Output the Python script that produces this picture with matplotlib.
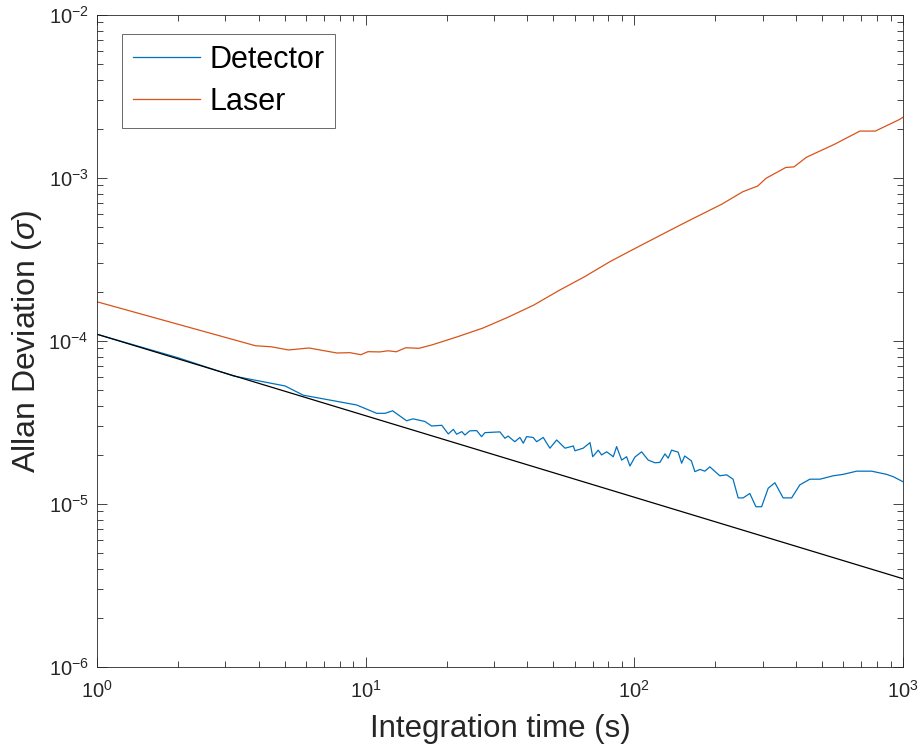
import numpy as np
import matplotlib
matplotlib.use("Agg")
import matplotlib.pyplot as plt
from matplotlib.ticker import LogLocator, NullFormatter

# integration time (s) and Allan deviation
laser_tau = [1, 3.89, 4.44, 5.17, 6.15, 7.82, 8.74, 9.6, 10.2, 11.3, 12.1, 13.0,
             14.1, 15.8, 17.6, 21.9, 27.3, 33.9, 42.2, 52.4, 65.3, 81.2, 101,
             125.6, 156.6, 186, 212, 253.5, 288, 309, 366, 393, 437, 556, 691,
             789, 973, 1000]
laser_adev = [1.74e-4, 9.35e-5, 9.22e-5, 8.81e-5, 9.06e-5, 8.44e-5, 8.48e-5,
              8.24e-5, 8.60e-5, 8.57e-5, 8.71e-5, 8.59e-5, 9.09e-5, 9.02e-5,
              9.45e-5, 1.06e-4, 1.20e-4, 1.40e-4, 1.66e-4, 2.04e-4, 2.48e-4,
              3.07e-4, 3.71e-4, 4.47e-4, 5.39e-4, 6.21e-4, 6.92e-4, 8.24e-4,
              8.93e-4, 9.95e-4, 1.16e-3, 1.17e-3, 1.34e-3, 1.61e-3, 1.94e-3,
              1.94e-3, 2.29e-3, 2.36e-3]

det_tau = [1, 2, 3.22, 5.01, 5.86, 9.26, 10.99, 11.8, 12.6, 14.2, 15.0, 16.6,
           17.6, 19.2, 20.3, 21.2, 21.8, 22.8, 23.4, 24.4, 25.9, 27.0, 27.8,
           31.6, 33.0, 33.9, 35.9, 37.5, 38.6, 39.7, 42.0, 43.3, 45.8, 48.5,
           51.4, 55.2, 59.3, 60.1, 64.5, 68.4, 70.0, 73.4, 75.5, 78.9, 83.5,
           85.9, 89.7, 93.6, 96.3, 100.5, 106.4, 112.6, 119.3, 124.5, 130,
           133.7, 137.6, 145.6, 150, 154, 163, 168, 175.5, 183, 191, 208,
           220.5, 233, 243.5, 254, 269, 283.5, 297.6, 315, 333.5, 358, 385,
           413, 450, 491, 550, 599, 672, 764, 869, 920, 1000]
det_adev = [1.10e-4, 7.9e-5, 6.10e-5, 5.30e-5, 4.65e-5, 4.05e-5, 3.60e-5,
            3.60e-5, 3.73e-5, 3.24e-5, 3.33e-5, 3.21e-5, 3.01e-5, 3.04e-5,
            2.69e-5, 2.87e-5, 2.68e-5, 2.78e-5, 2.65e-5, 2.81e-5, 2.82e-5,
            2.59e-5, 2.74e-5, 2.77e-5, 2.53e-5, 2.61e-5, 2.41e-5, 2.56e-5,
            2.36e-5, 2.59e-5, 2.56e-5, 2.41e-5, 2.56e-5, 2.20e-5, 2.47e-5,
            2.20e-5, 2.27e-5, 2.12e-5, 2.20e-5, 2.38e-5, 1.95e-5, 2.14e-5,
            2.00e-5, 2.09e-5, 1.95e-5, 2.25e-5, 1.86e-5, 1.95e-5, 1.71e-5,
            1.94e-5, 2.09e-5, 1.86e-5, 1.79e-5, 1.80e-5, 2.03e-5, 1.91e-5,
            2.14e-5, 2.08e-5, 1.78e-5, 1.97e-5, 1.84e-5, 1.58e-5, 1.63e-5,
            1.59e-5, 1.69e-5, 1.49e-5, 1.51e-5, 1.42e-5, 1.09e-5, 1.09e-5,
            1.16e-5, 9.62e-6, 9.62e-6, 1.25e-5, 1.35e-5, 1.09e-5, 1.09e-5,
            1.31e-5, 1.42e-5, 1.42e-5, 1.49e-5, 1.52e-5, 1.59e-5, 1.59e-5,
            1.52e-5, 1.47e-5, 1.37e-5]

# white-noise reference line, tau^-1/2
ref_tau = [1, 1000]
ref_adev = [1.1e-4, 3.48e-6]

plt.rcParams['font.family'] = ['Liberation Sans', 'DejaVu Sans']
plt.rcParams['mathtext.fontset'] = 'custom'
plt.rcParams['mathtext.rm'] = 'Liberation Sans'
plt.rcParams['mathtext.it'] = 'Liberation Sans:italic'

fig = plt.figure(figsize=(9.22, 7.53), dpi=100)
ax = fig.add_axes([0.1052, 0.1142, 0.8742, 0.8659])

ax.loglog(det_tau, det_adev, color='#0072BD', lw=0.9, label='Detector')
ax.loglog(laser_tau, laser_adev, color='#D95319', lw=0.9, label='Laser')
ax.loglog(ref_tau, ref_adev, color='black', lw=0.9)

ax.set_xlim(1, 1000)
ax.set_ylim(1e-6, 1e-2)
ax.xaxis.set_major_locator(LogLocator(base=10, numticks=10))
ax.yaxis.set_major_locator(LogLocator(base=10, numticks=10))
ax.xaxis.set_minor_locator(LogLocator(base=10, subs=np.arange(2, 10), numticks=20))
ax.yaxis.set_minor_locator(LogLocator(base=10, subs=np.arange(2, 10), numticks=20))
ax.xaxis.set_minor_formatter(NullFormatter())
ax.yaxis.set_minor_formatter(NullFormatter())

ax.tick_params(which='both', direction='in', top=True, right=True,
               colors='#262626', labelcolor='#262626', width=0.6)
ax.tick_params(which='major', length=7, labelsize=14.5)
ax.tick_params(axis='x', which='major', pad=9)
ax.tick_params(axis='y', which='major', pad=6)
ax.tick_params(which='minor', length=4)
for s in ax.spines.values():
    s.set_color('#262626')
    s.set_linewidth(0.6)

ax.set_xlabel('Integration time (s)', fontsize=22.5, color='#262626', labelpad=9)
ax.set_ylabel(r'Allan Deviation ($\sigma$)', fontsize=23, color='#262626', labelpad=3)

leg = ax.legend(loc='upper left', bbox_to_anchor=(0.031, 0.971), fontsize=22,
                frameon=True, fancybox=False, borderaxespad=0,
                handlelength=2.2, handletextpad=0.3,
                labelspacing=0.4, borderpad=0.35)
leg.get_frame().set_edgecolor('#262626')
leg.get_frame().set_linewidth(0.6)

plt.savefig('out.png', dpi=100)
